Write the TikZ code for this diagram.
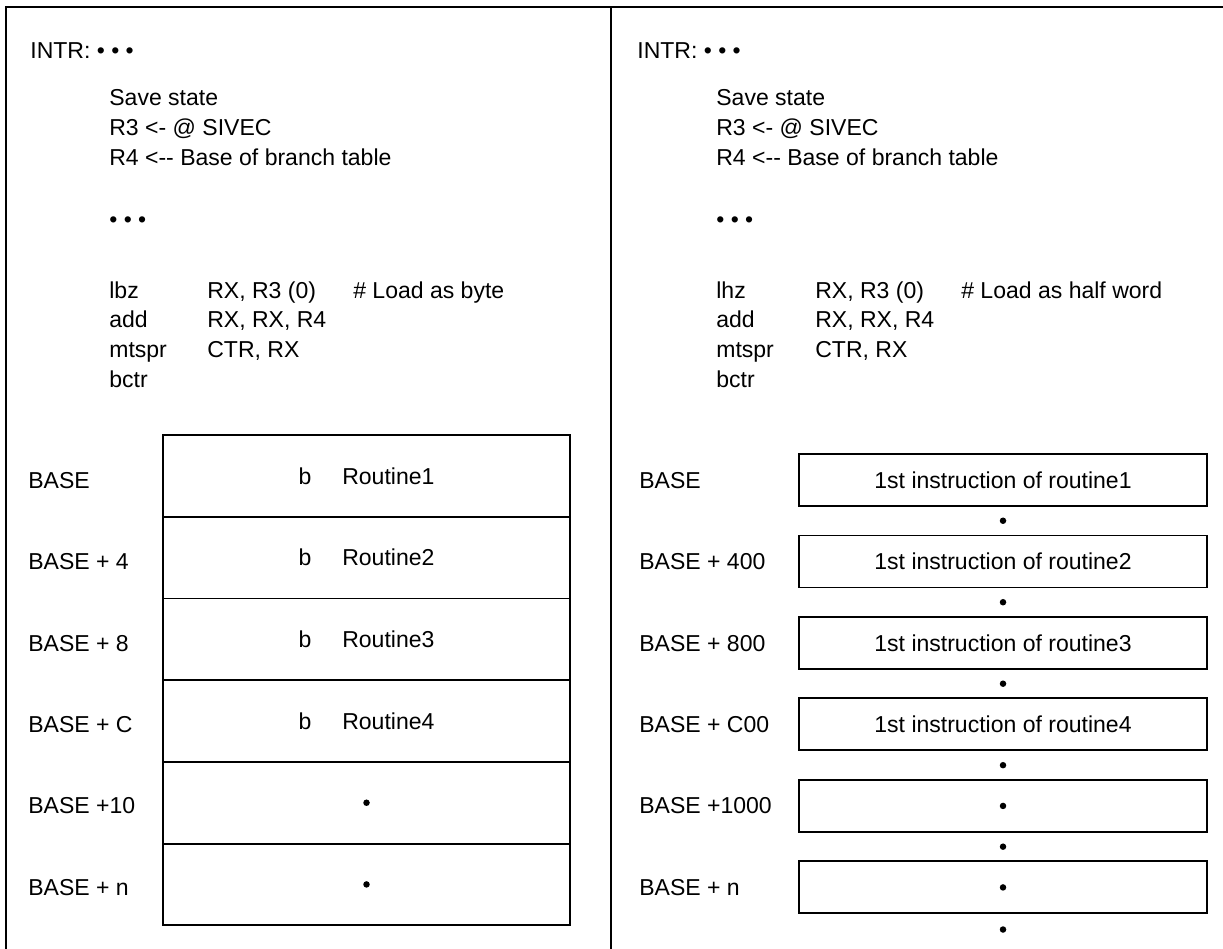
\documentclass[tikz,border=0pt]{standalone}
\usepackage{fontspec}
\setmainfont{Liberation Sans}
\usetikzlibrary{positioning,calc}

\begin{document}
\begin{tikzpicture}[x=0.02cm, y=-0.02cm,
    every node/.style={font=\fontsize{13.1}{17}\selectfont},
    frame/.style={line width=1.3pt},
    txt/.style={anchor=base west, inner sep=0pt},
    slot/.style={draw, line width=1.1pt, outer sep=0pt, inner sep=0pt, minimum width=8.14cm, minimum height=1.634cm},
    rbox/.style={draw, line width=1.1pt, outer sep=0pt, inner sep=0pt, minimum width=8.16cm, minimum height=1.04cm},
    dot/.style={circle, fill, inner sep=0pt, minimum size=0.13cm}
]
\useasboundingbox (0,0) rectangle (1223,949);

% frame
\draw[frame] (6,949) -- (6,7) -- (1223,7);
\draw[frame] (611,7) -- (611,949);

% left panel: code
\node[txt] (intrL) at (30,59) {INTR: • • •};
\node[txt] (stepsL) at (109,106) {\begin{tabular}[t]{@{}l@{}}
  Save state\\ R3 <- @ SIVEC\\ R4 <-{}- Base of branch table\end{tabular}};
\node[txt] (dotsL) at (109,228) {• • •};
\node[txt] (codeL) at (109,298) {\begin{tabular}[t]{@{}p{1.96cm}@{}p{2.92cm}@{}l@{}}
  lbz & RX, R3 (0) & \# Load as byte\\
  add & RX, RX, R4 &\\
  mtspr & CTR, RX &\\
  bctr & &\end{tabular}};

% left panel: branch table
\node[slot] (lb1) at (366.5,476) {b\hspace{0.62cm}Routine1};
\node[slot, below=0pt of lb1] (lb2) {b\hspace{0.62cm}Routine2};
\node[slot, below=0pt of lb2] (lb3) {b\hspace{0.62cm}Routine3};
\node[slot, below=0pt of lb3] (lb4) {b\hspace{0.62cm}Routine4};
\node[slot, below=0pt of lb4] (lb5) {};
\node[slot, below=0pt of lb5] (lb6) {};
\node[dot] (ld5) at (lb5) {};
\node[dot] (ld6) at (lb6) {};

\node[txt] (ll1) at (28,488.2) {BASE};
\node[txt] (ll2) at (28,569.6) {BASE + 4};
\node[txt] (ll3) at (28,651) {BASE + 8};
\node[txt] (ll4) at (28,732.4) {BASE + C};
\node[txt] (ll5) at (28,813.8) {BASE +10};
\node[txt] (ll6) at (28,895.2) {BASE + n};

% right panel: code
\node[txt] (intrR) at (637,59) {INTR: • • •};
\node[txt] (stepsR) at (716,106) {\begin{tabular}[t]{@{}l@{}}
  Save state\\ R3 <- @ SIVEC\\ R4 <-{}- Base of branch table\end{tabular}};
\node[txt] (dotsR) at (716,228) {• • •};
\node[txt] (codeR) at (716,298) {\begin{tabular}[t]{@{}p{1.98cm}@{}p{2.92cm}@{}l@{}}
  lhz & RX, R3 (0) & \# Load as half word\\
  add & RX, RX, R4 &\\
  mtspr & CTR, RX &\\
  bctr & &\end{tabular}};

% right panel: routines in place
\node[rbox] (rb1) at (1003,480) {1st instruction of routine1};
\node[rbox, below=0.59cm of rb1] (rb2) {1st instruction of routine2};
\node[rbox, below=0.59cm of rb2] (rb3) {1st instruction of routine3};
\node[rbox, below=0.59cm of rb3] (rb4) {1st instruction of routine4};
\node[rbox, below=0.59cm of rb4] (rb5) {};
\node[rbox, below=0.59cm of rb5] (rb6) {};
\node[dot] (rd5) at (rb5) {};
\node[dot] (rdn) at (rb6) {};
\node[dot] (rg1) at ($(rb1.south)!.5!(rb2.north)$) {};
\node[dot] (rg2) at ($(rb2.south)!.5!(rb3.north)$) {};
\node[dot] (rg3) at ($(rb3.south)!.5!(rb4.north)$) {};
\node[dot] (rg4) at ($(rb4.south)!.5!(rb5.north)$) {};
\node[dot] (rg5) at ($(rb5.south)!.5!(rb6.north)$) {};
\node[dot, below=0.25cm of rb6] (rg6) {};

\node[txt] (rl1) at (639,488.2) {BASE};
\node[txt] (rl2) at (639,569.6) {BASE + 400};
\node[txt] (rl3) at (639,651) {BASE + 800};
\node[txt] (rl4) at (639,732.4) {BASE + C00};
\node[txt] (rl5) at (639,813.8) {BASE +1000};
\node[txt] (rl6) at (639,895.2) {BASE + n};
\end{tikzpicture}
\end{document}
